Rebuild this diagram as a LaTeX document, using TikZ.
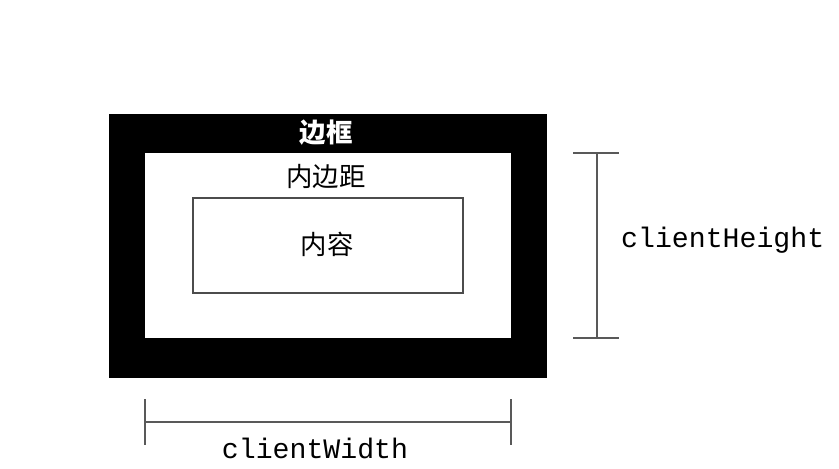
\documentclass[tikz,border=0pt]{standalone}
\usepackage{fontspec}
\newfontfamily\cjk{Noto Sans CJK SC}
\newfontfamily\mono{Liberation Mono}
\begin{document}
\begin{tikzpicture}[x=1bp,y=-1bp,
  dimline/.style={draw=black!65,line width=1.8bp},
  cjklabel/.style={font=\cjk\fontsize{26.5}{28}\selectfont,inner sep=0pt},
  dimlabel/.style={font=\mono\fontsize{28.3}{30}\selectfont,inner sep=0pt}]
\useasboundingbox[fill=white] (0,0) rectangle (839,469);
% border box
\path[fill=black] (109,114) rectangle (547,378);
\path[fill=white] (145,153) rectangle (511,338);
\node[draw=black!70,line width=1.3bp,minimum width=270bp,minimum height=95bp,inner sep=0pt] (content) at (328,245.5) {};
\node[cjklabel,text=white,font=\cjk\bfseries\fontsize{26.5}{28}\selectfont] (border) at (326,133) {边框};
\node[cjklabel] (padding) at (326,176) {内边距};
\node[cjklabel] (contentlbl) at (327,244) {内容};
% clientHeight
\coordinate (h1) at (597,153);
\coordinate (h2) at (597,338);
\coordinate (h1a) at (573,153);
\coordinate (h1b) at (619,153);
\coordinate (h2a) at (573,338);
\coordinate (h2b) at (619,338);
\draw[dimline] (h1) -- (h2);
\draw[dimline] (h1a) -- (h1b);
\draw[dimline] (h2a) -- (h2b);
\node[dimlabel,anchor=west] (ch) at (621,240) {clientHeight};
% clientWidth
\coordinate (w1) at (145,422);
\coordinate (w2) at (511,422);
\coordinate (w1a) at (145,399);
\coordinate (w1b) at (145,445);
\coordinate (w2a) at (511,399);
\coordinate (w2b) at (511,445);
\draw[dimline] (w1) -- (w2);
\draw[dimline] (w1a) -- (w1b);
\draw[dimline] (w2a) -- (w2b);
\node[dimlabel] (cw) at (315,448) {clientWidth};
\end{tikzpicture}
\end{document}
